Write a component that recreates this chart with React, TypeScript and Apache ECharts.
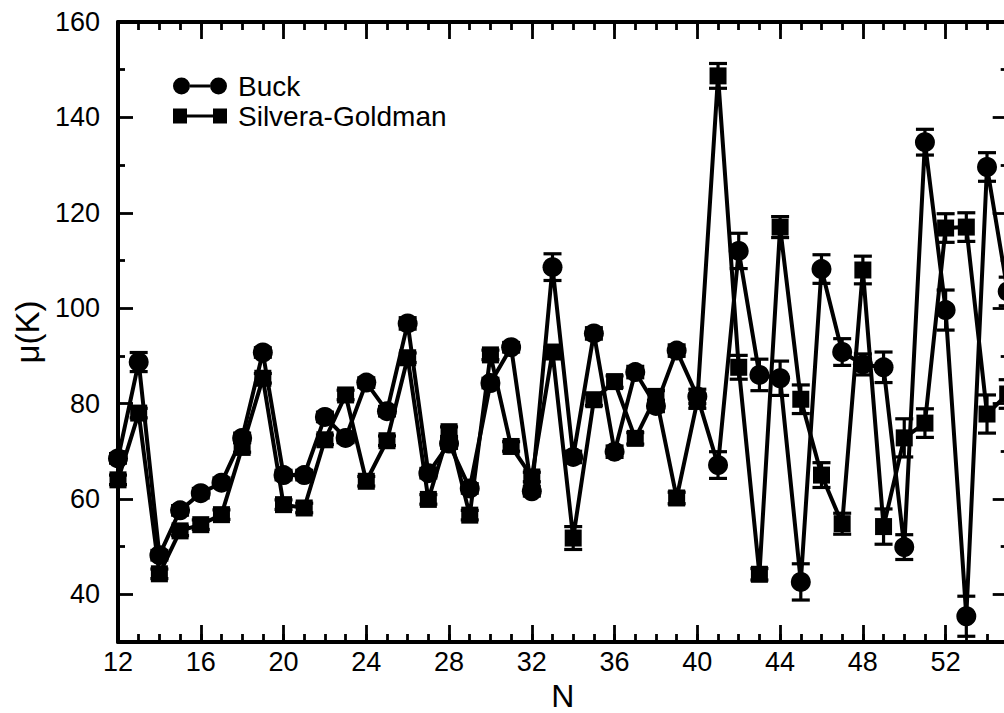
import React, { useEffect, useRef } from "react";
import * as echarts from "echarts";

const N = [12, 13, 14, 15, 16, 17, 18, 19, 20, 21, 22, 23, 24, 25, 26, 27, 28, 29, 30, 31, 32, 33, 34, 35, 36, 37, 38, 39, 40, 41, 42, 43, 44, 45, 46, 47, 48, 49, 50, 51, 52, 53, 54, 55];

const buck = [68.5, 88.7, 48.2, 57.6, 61.2, 63.4, 72.8, 90.7, 65.0, 65.0, 77.2, 72.8, 84.4, 78.4, 96.8, 65.4, 71.6, 62.2, 84.3, 91.8, 61.6, 108.6, 68.8, 94.7, 69.9, 86.6, 79.5, 91.1, 81.5, 67.1, 112.0, 86.0, 85.3, 42.6, 108.2, 90.8, 88.2, 87.6, 49.9, 134.8, 99.6, 35.4, 129.6, 103.5];
const buckErr = [1.0, 2.0, 1.0, 1.0, 1.0, 1.0, 1.0, 1.0, 1.0, 1.0, 1.0, 1.0, 1.0, 1.0, 1.2, 1.0, 1.0, 1.0, 1.0, 1.0, 1.0, 2.8, 1.2, 1.2, 1.2, 1.2, 1.2, 1.2, 1.5, 2.8, 3.7, 3.3, 3.6, 3.8, 3.0, 2.8, 2.2, 3.2, 2.6, 2.7, 4.2, 4.2, 3.0, 3.0];

const sg = [64.0, 78.0, 44.3, 53.3, 54.6, 56.7, 70.8, 85.3, 58.8, 58.1, 72.4, 81.8, 63.7, 72.2, 89.6, 59.9, 74.1, 56.6, 90.2, 71.0, 64.6, 90.8, 51.8, 80.8, 84.6, 72.7, 81.5, 60.2, 80.5, 148.7, 87.6, 44.2, 117.0, 80.9, 65.0, 54.8, 108.0, 54.2, 72.8, 75.9, 116.8, 117.0, 77.8, 82.0];
const sgErr = [1.0, 1.0, 1.0, 1.0, 1.0, 1.0, 1.0, 1.0, 1.0, 1.0, 1.0, 1.0, 1.0, 1.0, 1.0, 1.0, 1.0, 1.0, 1.0, 1.0, 1.0, 1.0, 2.4, 1.2, 1.2, 1.2, 1.2, 1.2, 1.5, 2.6, 2.5, 1.2, 2.2, 3.0, 2.6, 2.2, 2.9, 3.7, 4.0, 3.0, 3.0, 3.0, 4.0, 3.0];

const xMajorTicks = [12, 16, 20, 24, 28, 32, 36, 40, 44, 48, 52];
const xMinorTicks = [12, 13, 14, 15, 16, 17, 18, 19, 20, 21, 22, 23, 24, 25, 26, 27, 28, 29, 30, 31, 32, 33, 34, 35, 36, 37, 38, 39, 40, 41, 42, 43, 44, 45, 46, 47, 48, 49, 50, 51, 52, 53, 54, 55];
const yMajorTicks = [40, 60, 80, 100, 120, 140, 160];
const yMinorTicks = [50, 70, 90, 110, 130, 150];

const seriesNames = ["Buck", "Silvera-Goldman"];

const FONT = "'Liberation Sans', Arial, Helvetica, sans-serif";

const circleIcon =
  "path://M0,8.5a8.5,8.5 0 1,0 17,0a8.5,8.5 0 1,0 -17,0Z M37,8.5a8.5,8.5 0 1,0 17,0a8.5,8.5 0 1,0 -17,0Z M17,7V10H37V7Z";
const squareIcon =
  "path://M0,1V16H14V1Z M40,1V16H54V1Z M14,7V10H40V7Z";

export default function App() {
  const ref = useRef<HTMLDivElement>(null);

  useEffect(() => {
    if (!ref.current) return;
    const chart = echarts.init(ref.current, undefined, { renderer: "svg" });

    const tickStyle = { color: "#000", width: 2.8 };
    const xBase = { type: "value", min: 12, max: 55, gridIndex: 0, splitLine: { show: false } };
    const yBase = { type: "value", min: 30, max: 160, gridIndex: 0, splitLine: { show: false } };

    const errRender = (params: any, api: any) => {
      const x = api.value(0);
      const lo = api.value(1);
      const hi = api.value(2);
      const pLo = api.coord([x, lo]);
      const pHi = api.coord([x, hi]);
      const hw = 9;
      const style = { stroke: "#000", lineWidth: 3.2 };
      return {
        type: "group",
        children: [
          { type: "line", shape: { x1: pLo[0], y1: pLo[1], x2: pHi[0], y2: pHi[1] }, style },
          { type: "line", shape: { x1: pLo[0] - hw, y1: pLo[1], x2: pLo[0] + hw, y2: pLo[1] }, style },
          { type: "line", shape: { x1: pHi[0] - hw, y1: pHi[1], x2: pHi[0] + hw, y2: pHi[1] }, style },
        ],
      };
    };

    const buckData = N.map((n, i) => [n, buck[i]]);
    const sgData = N.map((n, i) => [n, sg[i]]);
    const buckErrData = N.map((n, i) => [n, buck[i] - buckErr[i], buck[i] + buckErr[i]]);
    const sgErrData = N.map((n, i) => [n, sg[i] - sgErr[i], sg[i] + sgErr[i]]);

    chart.setOption({
      animation: false,
      backgroundColor: "#fff",
      grid: {
        left: 118,
        right: 12.3,
        top: 22,
        bottom: 71,
        containLabel: false,
        outerBoundsMode: "none",
      },
      legend: {
        orient: "vertical",
        left: 168,
        top: 67,
        itemWidth: 54,
        itemHeight: 17,
        itemGap: 2,
        textStyle: { fontFamily: FONT, fontSize: 28, color: "#000", padding: [0, 0, 0, 6] },
        data: [
          { name: seriesNames[0], icon: circleIcon },
          { name: seriesNames[1], icon: squareIcon },
        ],
        selectedMode: false,
      },
      xAxis: [
        {
          ...xBase,
          position: "bottom",
          name: "N",
          nameLocation: "middle",
          nameGap: 23,
          nameTextStyle: { fontFamily: FONT, fontSize: 32, color: "#000" },
          axisLine: { show: true, onZero: false, lineStyle: { color: "#000", width: 4 } },
          axisTick: { show: true, inside: true, length: 17, customValues: xMajorTicks, lineStyle: tickStyle },
          axisLabel: {
            show: true,
            customValues: xMajorTicks,
            margin: 6,
            fontFamily: FONT,
            fontSize: 27,
            color: "#000",
          },
        },
        {
          ...xBase,
          position: "bottom",
          axisLine: { show: false, onZero: false },
          axisTick: { show: true, inside: true, length: 8, customValues: xMinorTicks, lineStyle: tickStyle },
          axisLabel: { show: false },
        },
        {
          ...xBase,
          position: "top",
          axisLine: { show: true, onZero: false, lineStyle: { color: "#000", width: 4 } },
          axisTick: { show: true, inside: true, length: 17, customValues: xMajorTicks, lineStyle: tickStyle },
          axisLabel: { show: false },
        },
        {
          ...xBase,
          position: "top",
          axisLine: { show: false, onZero: false },
          axisTick: { show: true, inside: true, length: 8, customValues: xMinorTicks, lineStyle: tickStyle },
          axisLabel: { show: false },
        },
      ],
      yAxis: [
        {
          ...yBase,
          position: "left",
          name: "μ(K)",
          nameLocation: "middle",
          nameGap: 66,
          nameRotate: 90,
          nameTextStyle: { fontFamily: FONT, fontSize: 33, color: "#000" },
          axisLine: { show: true, onZero: false, lineStyle: { color: "#000", width: 4 } },
          axisTick: { show: true, inside: true, length: 15, customValues: yMajorTicks, lineStyle: tickStyle },
          axisLabel: {
            show: true,
            customValues: yMajorTicks,
            margin: 18,
            fontFamily: FONT,
            fontSize: 27,
            color: "#000",
          },
        },
        {
          ...yBase,
          position: "left",
          axisLine: { show: false, onZero: false },
          axisTick: { show: true, inside: true, length: 7, customValues: yMinorTicks, lineStyle: tickStyle },
          axisLabel: { show: false },
        },
        {
          ...yBase,
          position: "right",
          axisLine: { show: true, onZero: false, lineStyle: { color: "#000", width: 4 } },
          axisTick: { show: true, inside: true, length: 15, customValues: yMajorTicks, lineStyle: tickStyle },
          axisLabel: { show: false },
        },
        {
          ...yBase,
          position: "right",
          axisLine: { show: false, onZero: false },
          axisTick: { show: true, inside: true, length: 7, customValues: yMinorTicks, lineStyle: tickStyle },
          axisLabel: { show: false },
        },
      ],
      series: [
        {
          name: "Buck error",
          type: "custom",
          xAxisIndex: 0,
          yAxisIndex: 0,
          renderItem: errRender,
          encode: { x: 0, y: [1, 2] },
          data: buckErrData,
          z: 3,
        },
        {
          name: "Silvera-Goldman error",
          type: "custom",
          xAxisIndex: 0,
          yAxisIndex: 0,
          renderItem: errRender,
          encode: { x: 0, y: [1, 2] },
          data: sgErrData,
          z: 3,
        },
        {
          name: seriesNames[1],
          type: "line",
          xAxisIndex: 0,
          yAxisIndex: 0,
          data: sgData,
          symbol: "rect",
          symbolSize: 17,
          showAllSymbol: true,
          lineStyle: { color: "#000", width: 4 },
          itemStyle: { color: "#000", borderWidth: 0 },
          z: 4,
        },
        {
          name: seriesNames[0],
          type: "line",
          xAxisIndex: 0,
          yAxisIndex: 0,
          data: buckData,
          symbol: "circle",
          symbolSize: 20,
          showAllSymbol: true,
          lineStyle: { color: "#000", width: 4 },
          itemStyle: { color: "#000", borderWidth: 0 },
          z: 5,
        },
      ],
    });

    return () => {
      chart.dispose();
    };
  }, []);

  return (
    <div
      style={{
        position: "fixed",
        left: 0,
        top: 0,
        width: 1004,
        height: 713,
        overflow: "hidden",
        background: "#fff",
      }}
    >
      <div ref={ref} style={{ width: 1020, height: 713 }} />
    </div>
  );
}
